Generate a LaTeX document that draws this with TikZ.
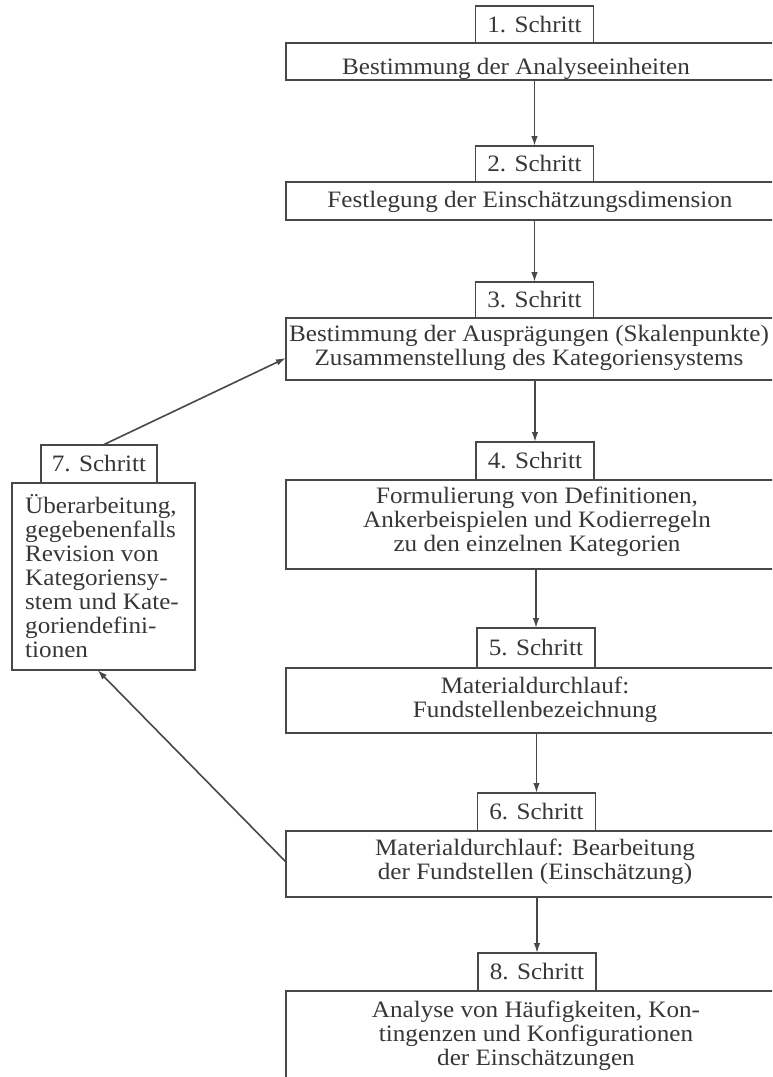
\documentclass[tikz,border=0pt]{standalone}
\usepackage{fontspec}
\setmainfont{Liberation Serif}[FakeStretch=1.07]
\usetikzlibrary{arrows.meta,calc}
\definecolor{ink}{RGB}{72,72,72}
\definecolor{txt}{RGB}{55,55,55}
\tikzset{
  frame/.style={draw=ink, line width=1.6pt, inner sep=0pt, outer sep=0pt, fill=white},
  tab/.style={frame, minimum width=118pt, text=txt, font=\fontsize{23.5}{24}\selectfont},
  lbl/.style={text=txt, font=\fontsize{23.5}{24}\selectfont, inner sep=0pt, align=center, anchor=base},
  flow/.style={draw=ink, line width=1.6pt, -{Latex[length=10pt,width=6.5pt]}},
}
\begin{document}
\begin{tikzpicture}[x=1pt,y=-1pt]
\clip (0,0) rectangle (772,1077);
\fill[white] (0,0) rectangle (772,1077);
% main boxes
\node[frame, minimum width=498pt, minimum height=37pt] (b1) at (535,61.5) {};
\node[frame, minimum width=498pt, minimum height=38pt] (b2) at (535,201) {};
\node[frame, minimum width=498pt, minimum height=62pt] (b3) at (535,349) {};
\node[frame, minimum width=498pt, minimum height=89pt] (b4) at (535,524.5) {};
\node[frame, minimum width=498pt, minimum height=65pt] (b5) at (535,700.5) {};
\node[frame, minimum width=498pt, minimum height=66pt] (b6) at (535,864) {};
\node[frame, minimum width=498pt, minimum height=100pt] (b8) at (535,1041) {};
\node[frame, minimum width=183pt, minimum height=187pt] (b7) at (103.5,576.5) {};
% tabs
\node[tab, minimum height=37pt] (t1) at (534.5,24.5) {1. Schritt};
\node[tab, minimum height=36pt] (t2) at (534.5,164) {2. Schritt};
\node[tab, minimum height=36pt] (t3) at (534.5,300) {3. Schritt};
\node[tab, minimum height=38pt] (t4) at (535,461) {4. Schritt};
\node[tab, minimum height=40pt] (t5) at (536,648) {5. Schritt};
\node[tab, minimum height=38pt] (t6) at (536.5,812) {6. Schritt};
\node[tab, minimum height=38pt] (t8) at (537,972) {8. Schritt};
\node[tab, minimum width=116pt, minimum height=38pt] (t7) at (99,464) {7. Schritt};
% texts (anchor = baseline of the last line)
\node[lbl] (x1) at (516,74) {Bestimmung der Analyseeinheiten};
\node[lbl] (x2) at (530,207) {Festlegung der Einschätzungsdimension};
\node[lbl] (x3) at (529,365) {Bestimmung der Ausprägungen (Skalenpunkte)\\Zusammenstellung des Kategoriensystems};
\node[lbl] (x4) at (537,551) {Formulierung von Definitionen,\\Ankerbeispielen und Kodierregeln\\zu den einzelnen Kategorien};
\node[lbl] (x5) at (535,717) {Materialdurchlauf:\\Fundstellenbezeichnung};
\node[lbl] (x6) at (535,879) {Materialdurchlauf: Bearbeitung\\der Fundstellen (Einschätzung)};
\node[lbl] (x8) at (536,1065) {Analyse von Häufigkeiten, Kon-\\tingenzen und Konfigurationen\\der Einschätzungen};
\node[lbl, align=left, anchor=base west] (x7) at (25,657) {Überarbeitung,\\gegebenenfalls\\Revision von\\Kategoriensy-\\stem und Kate-\\goriendefini-\\tionen};
% connectors
\draw[flow] (b1.south -| t2.north) -- (t2.north);
\draw[flow] (b2.south -| t3.north) -- (t3.north);
\draw[flow] (b3.south -| t4.north) -- (t4.north);
\draw[flow] (b4.south -| t5.north) -- (t5.north);
\draw[flow] (b5.south -| t6.north) -- (t6.north);
\draw[flow] (b6.south -| t8.north) -- (t8.north);
\coordinate (in3) at ($(b3.north west)!0.645!(b3.south west)$);
\coordinate (out7) at ($(t7.north)+(4,0)$);
\coordinate (in7) at ($(b7.south)+(-6,0)$);
\coordinate (out6) at ($(b6.north west)!0.47!(b6.south west)$);
\draw[flow] (out7) -- (in3);
\draw[flow] (out6) -- (in7);
\end{tikzpicture}
\end{document}
